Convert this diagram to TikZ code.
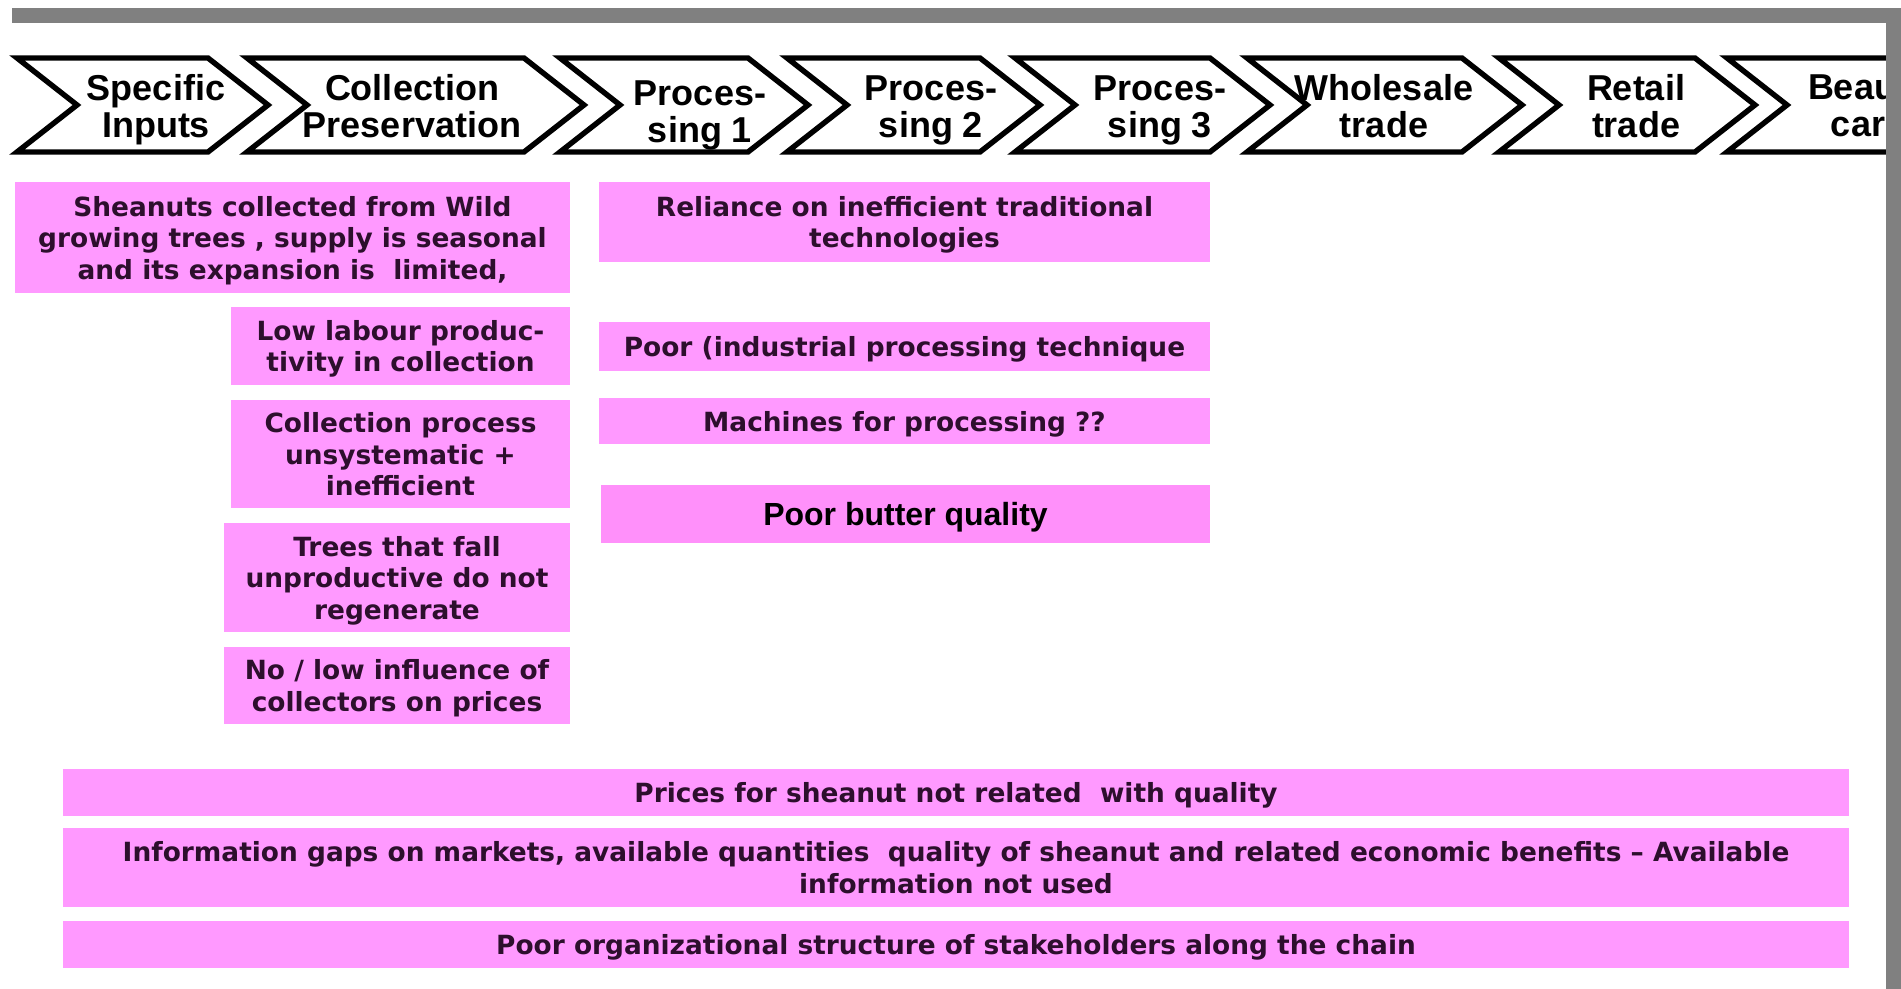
\documentclass[tikz,border=0pt]{standalone}
\usepackage{fontspec}
\setmainfont{DejaVu Sans}
\newfontfamily\arialfont{Liberation Sans}
\definecolor{probpink}{HTML}{FF99FF}
\definecolor{butterpink}{HTML}{FF90FA}
\definecolor{probtext}{HTML}{2D0F2D}
\definecolor{bargray}{HTML}{808080}
\tikzset{every node/.style={align=center},
         chev/.style={ % Outline of one stage of the chain
           draw=black, line width=2.7pt, fill=white, line join=miter},
         stage/.style={ % Stage names inside the chevrons
           inner sep=0pt, text depth=0pt,
           font=\arialfont\bfseries\fontsize{18}{18.5}\selectfont},
         prob/.style={ % Pink problem boxes
           fill=probpink, text=probtext, inner sep=0pt, text depth=0pt,
           font=\bfseries\fontsize{13.2}{15.75}\selectfont},
         colbox/.style={prob, minimum width=169.5pt},
         procbox/.style={prob, minimum width=305.5pt},
         widebox/.style={prob, minimum width=893pt, minimum height=23.5pt}}

\begin{document}
\begin{tikzpicture}[x=0.5pt,y=-0.5pt]
  \useasboundingbox (0,0) rectangle (1901,989);

  % the chain
  \begin{scope}
    \clip (0,40) rectangle (1886,170);
    \draw[chev] (17,58) -- (208,58) -- (268,105) -- (208,152) -- (17,152) -- (77,105) -- cycle;
    \draw[chev] (247,58) -- (524,58) -- (584,105) -- (524,152) -- (247,152) -- (307,105) -- cycle;
    \draw[chev] (560,58) -- (748,58) -- (808,105) -- (748,152) -- (560,152) -- (620,105) -- cycle;
    \draw[chev] (787,58) -- (980,58) -- (1040,105) -- (980,152) -- (787,152) -- (847,105) -- cycle;
    \draw[chev] (1015,58) -- (1210,58) -- (1270,105) -- (1210,152) -- (1015,152) -- (1075,105) -- cycle;
    \draw[chev] (1247,58) -- (1462,58) -- (1522,105) -- (1462,152) -- (1247,152) -- (1307,105) -- cycle;
    \draw[chev] (1499,58) -- (1695,58) -- (1755,105) -- (1695,152) -- (1499,152) -- (1559,105) -- cycle;
    \draw[chev] (1727,58) -- (1925,58) -- (1985,105) -- (1925,152) -- (1727,152) -- (1787,105) -- cycle;

    \node[stage] (sinputs) at (156,106) {Specific\\Inputs};
    \node[stage] (scollect) at (412,106) {Collection\\Preservation};
    \node[stage] (sproc1) at (700,112) {Proces-\\sing 1};
    \node[stage] (sproc2) at (931,107) {Proces-\\sing 2};
    \node[stage] (sproc3) at (1160,107) {Proces-\\sing 3};
    \node[stage] (swholesale) at (1384,106) {Wholesale\\trade};
    \node[stage] (sretail) at (1636,106) {Retail\\trade};
    \node[stage] (sbeauty) at (1868,106) {Beauty\\care};
  \end{scope}

  \fill[bargray] (12,8) rectangle (1901,23);
  \fill[bargray] (1886,8) rectangle (1901,989);

  % problems per stage
  \node[prob, minimum width=277.5pt, minimum height=55.5pt] (pwild) at (292.5,237.5)
    {Sheanuts collected from Wild\\growing trees , supply is seasonal\\and its expansion is\ \ limited,};
  \node[colbox, minimum height=39pt] (plabour) at (400.5,346) {Low labour produc-\\tivity in collection};
  \node[colbox, minimum height=54pt] (punsyst) at (400.5,454) {Collection process\\unsystematic +\\inefficient};
  \node[prob, minimum width=173pt, minimum height=54.5pt] (ptrees) at (397,577.5) {Trees that fall\\unproductive do not\\regenerate};
  \node[prob, minimum width=173pt, minimum height=38.5pt] (pinfluence) at (397,685.5) {No / low influence of\\collectors on prices};

  \node[procbox, minimum height=40pt] (ptech) at (904.5,222) {Reliance on inefficient traditional\\technologies};
  \node[procbox, minimum height=24.5pt] (pindustrial) at (904.5,346.5) {Poor (industrial processing technique};
  \node[procbox, minimum height=23pt] (pmachines) at (904.5,421) {Machines for processing ??};
  \node[procbox, fill=butterpink, text=black, minimum width=304.5pt, minimum height=29pt,
        font=\arialfont\bfseries\fontsize{16}{18}\selectfont] (pbutter) at (905.5,514) {Poor butter quality};

  % problems along the whole chain
  \node[widebox] (pprices) at (956,792.5) {Prices for sheanut not related\ \ with quality};
  \node[widebox, minimum height=39.5pt] (pinfo) at (956,867.5)
    {Information gaps on markets, available quantities\ \ quality of sheanut and related economic benefits -- Available\\information not used};
  \node[widebox] (porga) at (956,944.5) {Poor organizational structure of stakeholders along the chain};
\end{tikzpicture}
\end{document}
